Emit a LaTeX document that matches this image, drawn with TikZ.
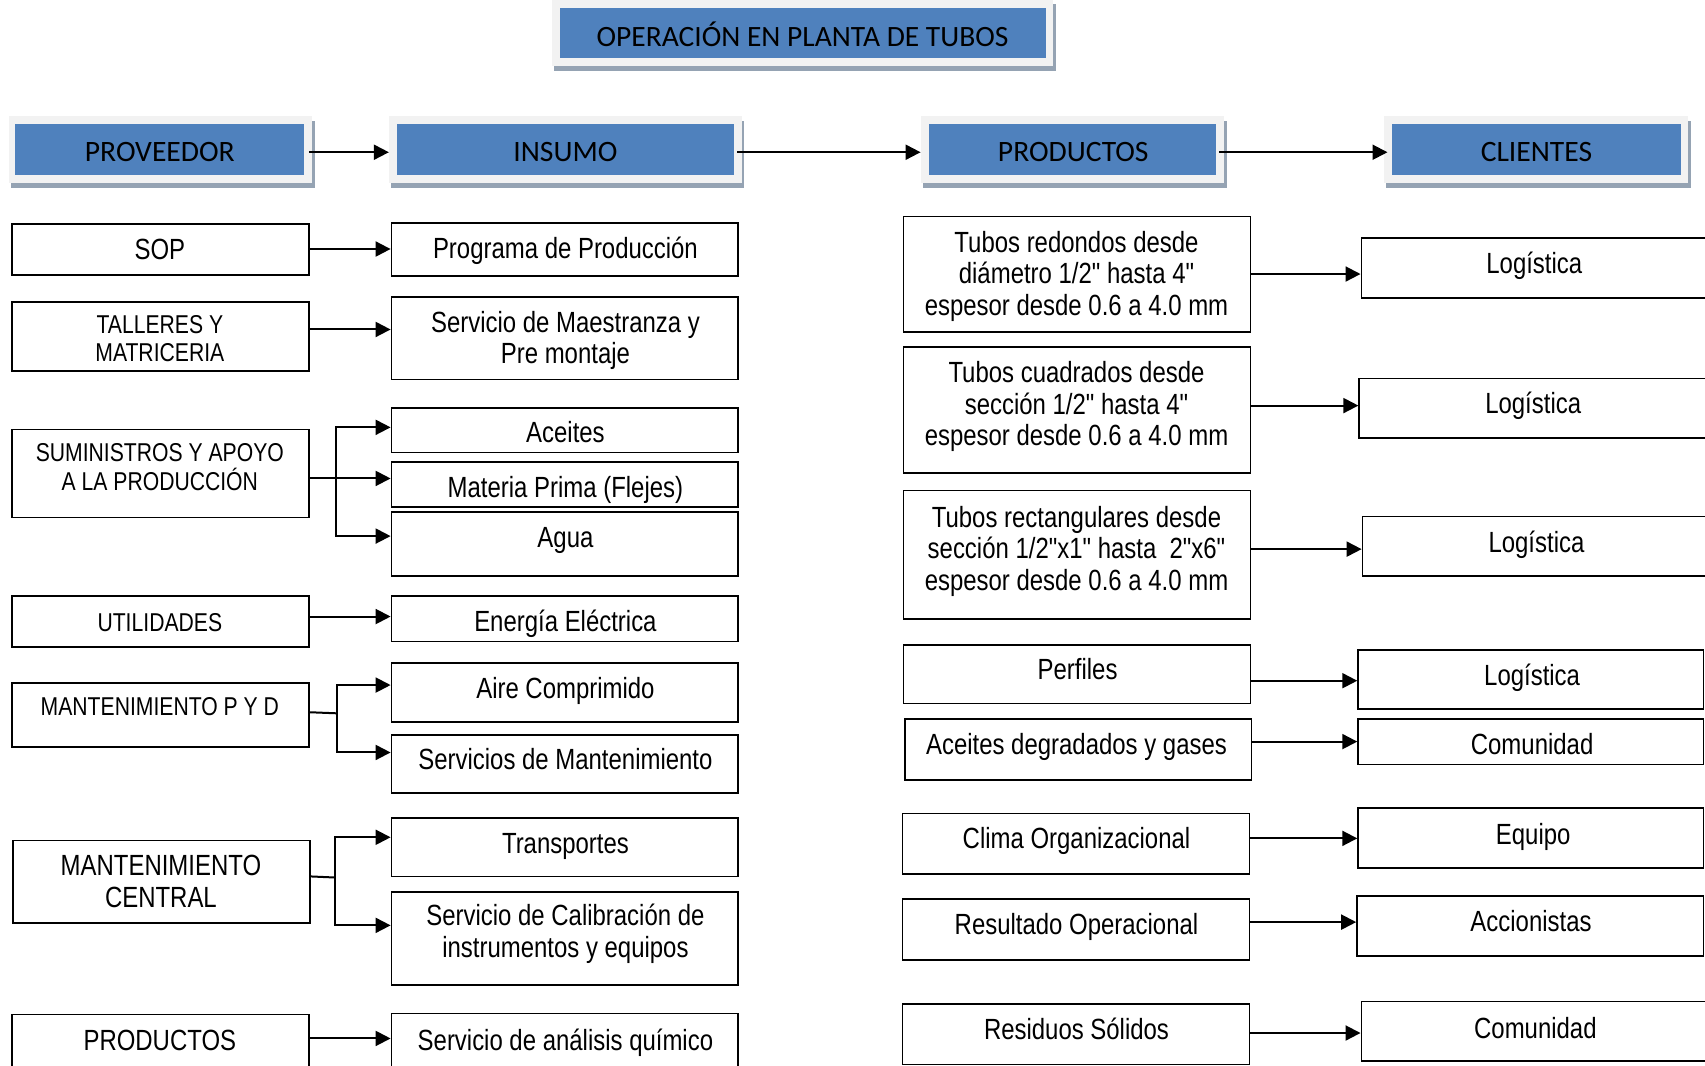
\documentclass[tikz,border=0pt]{standalone}
\usepackage{fontspec}
\newfontfamily\bodyfont{Liberation Sans}[FakeStretch=0.82]
\newfontfamily\hdrfont{Carlito}
\usetikzlibrary{arrows.meta,calc,fit}
\definecolor{hblue}{RGB}{79,129,189}
\definecolor{hframe}{RGB}{242,242,242}
\definecolor{hshadow}{RGB}{149,163,179}
\begin{document}
\begin{tikzpicture}[x=0.5437pt,y=-0.5437pt,
  box/.style={draw=black,line width=0.85pt,inner sep=0pt},
  bigm/.style={font=\bodyfont\fontsize{14.6}{15.8}\selectfont,align=center,inner sep=0pt,yshift=-1.6pt},
  big/.style={font=\bodyfont\fontsize{14.6}{15.8}\selectfont,inner sep=0pt,text height=13.9pt,text depth=3.4pt},
  smallm/.style={font=\bodyfont\fontsize{12.9}{14.1}\selectfont,align=center,inner sep=0pt},
  small/.style={font=\bodyfont\fontsize{12.9}{14.1}\selectfont,inner sep=0pt,text height=12.3pt,text depth=3pt},
  hdr/.style={font=\hdrfont\fontsize{14.8}{16}\selectfont,inner sep=0pt},
  ttl/.style={font=\hdrfont\fontsize{14.75}{17}\selectfont,inner sep=0pt,text height=13.3pt,text depth=3.8pt},
  arr/.style={line width=1pt,-{Triangle[length=7.5pt,width=7.5pt]}},
  ln/.style={line width=1pt},
  hfr/.style={fill=hframe,inner sep=0pt},
  hbl/.style={fill=hblue},
  hsh/.style={fill=hshadow}]
\useasboundingbox (0,0) rectangle (1568,980);
\fill[white] (0,0) rectangle (1568,980);
\clip (0,0) rectangle (1568,980);

% ---------- title ----------
\fill[hsh] (509.5,4) rectangle (971,65.3);
\node[hfr, fit={(507.6,0) (968,60.7)}] (title) {};
\fill[hbl] (515,7.4) rectangle (962,53.4);
\node[ttl] at (738,34) {OPERACIÓN EN PLANTA DE TUBOS};

% ---------- header row ----------
\fill[hsh] (10,111) rectangle (289.5,172.6);
\node[hfr, fit={(8,106.7) (287,168)}] (hprov) {};
\fill[hbl] (14,114) rectangle (280,160.6);
\node[hdr] at (147,140) {PROVEEDOR};

\fill[hsh] (360,111) rectangle (684.5,172.6);
\node[hfr, fit={(358,106.7) (682,168)}] (hins) {};
\fill[hbl] (365,114) rectangle (675,160.6);
\node[hdr] at (520,140) {INSUMO};

\fill[hsh] (849,111) rectangle (1128,172.6);
\node[hfr, fit={(847,106.7) (1125.6,168)}] (hprod) {};
\fill[hbl] (854,114) rectangle (1118,160.6);
\node[hdr] at (987,140) {PRODUCTOS};

\fill[hsh] (1275,111) rectangle (1555,172.6);
\node[hfr, fit={(1273,106.7) (1552,168)}] (hcli) {};
\fill[hbl] (1280,114) rectangle (1546,160.6);
\node[hdr] at (1413,140) {CLIENTES};

\draw[arr] (284,140) -- (hins.west|-0,140);
\draw[arr] (678,140) -- (hprod.west|-0,140);
\draw[arr] (1121,140) -- (1276,140);

% ---------- left column ----------
\node[box, fit={(11,206) (284,253)}] (sop) {};
\node[big] at (147,229) {SOP};
\node[box, fit={(11,278) (284,341)}] (tal) {};
\node[smallm] at (147,311.5) {TALLERES Y\\MATRICERIA};
\node[box, fit={(11,395) (284,476)}] (sum) {};
\node[smallm] at (147,429.5) {SUMINISTROS Y APOYO\\A LA PRODUCCIÓN};
\node[box, fit={(11,548) (284,595)}] (uti) {};
\node[small] at (147,572) {UTILIDADES};
\node[box, fit={(11,628) (284,687)}] (mpd) {};
\node[small] at (147,649) {MANTENIMIENTO P Y D};
\node[box, fit={(12,773) (285,849)}] (mc) {};
\node[smallm, font=\bodyfont\fontsize{14.6}{15.8}\selectfont] at (148,810.5) {MANTENIMIENTO\\CENTRAL};
\node[box, fit={(11,933) (284,995)}] (prl) {};
\node[big] at (147,956) {PRODUCTOS};

% ---------- middle column ----------
\node[box, fit={(360,205) (679,254)}] (prog) {};
\node[big] at (520,228) {Programa de Producción};
\node[box, fit={(360,273) (679,349)}] (maes) {};
\node[bigm] at (520,310) {Servicio de Maestranza y\\Pre montaje};
\node[box, fit={(360,375) (679,416)}] (acei) {};
\node[big] at (520,397) {Aceites};
\node[box, fit={(360,425) (679,466)}] (mat) {};
\node[big] at (520,448) {Materia Prima (Flejes)};
\node[box, fit={(360,471) (679,530)}] (agua) {};
\node[big] at (520,494) {Agua};
\node[box, fit={(360,548) (679,590)}] (ener) {};
\node[big] at (520,571) {Energía Eléctrica};
\node[box, fit={(360,610) (679,664)}] (aire) {};
\node[big] at (520,633) {Aire Comprimido};
\node[box, fit={(360,676) (679,729)}] (serm) {};
\node[big] at (520,698) {Servicios de Mantenimiento};
\node[box, fit={(360,752) (679,806)}] (trans) {};
\node[big] at (520,775) {Transportes};
\node[box, fit={(360,820) (679,906)}] (cal) {};
\node[bigm] at (520,856) {Servicio de Calibración de\\instrumentos y equipos};
\node[box, fit={(360,932) (679,995)}] (anal) {};
\node[big] at (520,956) {Servicio de análisis químico};

% ---------- left -> middle connectors ----------
\draw[arr] (sop.east|-0,229) -- (prog.west|-0,229);
\draw[arr] (tal.east|-0,303) -- (maes.west|-0,303);
\coordinate (sj) at (309,440);
\draw[arr] (sum.east|-0,440) -- (mat.west|-0,440);
\draw[arr] (sj) |- (acei.west|-0,393);
\draw[arr] (sj) |- (agua.west|-0,493);
\draw[arr] (uti.east|-0,567) -- (ener.west|-0,567);
\coordinate (mj) at (310,656);
\draw[ln] (mpd.east|-0,655) -- (mj);
\draw[arr] (mj) |- (aire.west|-0,630);
\draw[arr] (mj) |- (serm.west|-0,692);
\coordinate (cj) at (308,807);
\draw[ln] (mc.east|-0,806) -- (cj);
\draw[arr] (cj) |- (trans.west|-0,770);
\draw[arr] (cj) |- (cal.west|-0,851);
\draw[arr] (prl.east|-0,955) -- (anal.west|-0,955);

% ---------- products column ----------
\node[box, fit={(831,199) (1150,305)}] (tr) {};
\node[bigm] at (990,251) {Tubos redondos desde\\diámetro 1/2" hasta 4"\\espesor desde 0.6 a 4.0 mm};
\node[box, fit={(831,319) (1150,435)}] (tc) {};
\node[bigm] at (990,371) {Tubos cuadrados desde\\sección 1/2" hasta 4"\\espesor desde 0.6 a 4.0 mm};
\node[box, fit={(831,451) (1150,569)}] (trect) {};
\node[bigm] at (990,504) {Tubos rectangulares desde\\sección 1/2"x1" hasta~ 2"x6"\\espesor desde 0.6 a 4.0 mm};
\node[box, fit={(831,593) (1150,647)}] (perf) {};
\node[big] at (991,615) {Perfiles};
\node[box, fit={(832,661) (1151,717)}] (acdeg) {};
\node[big] at (990,684) {Aceites degradados y gases};
\node[box, fit={(830,748) (1149,804)}] (clima) {};
\node[big] at (990,771) {Clima Organizacional};
\node[box, fit={(830,827) (1149,883)}] (res) {};
\node[big] at (990,850) {Resultado Operacional};
\node[box, fit={(830,923) (1149,979)}] (sol) {};
\node[big] at (990,946) {Residuos Sólidos};

% ---------- clients column ----------
\node[box, fit={(1252,219) (1580,274)}] (l1) {};
\node[big] at (1411,242) {Logística};
\node[box, fit={(1250,348) (1580,403)}] (l2) {};
\node[big] at (1410,371) {Logística};
\node[box, fit={(1253,475) (1580,530)}] (l3) {};
\node[big] at (1413,498) {Logística};
\node[box, fit={(1249,598) (1566.5,652)}] (l4) {};
\node[big] at (1409,621) {Logística};
\node[box, fit={(1249,661) (1566.5,703)}] (com1) {};
\node[big] at (1409,684) {Comunidad};
\node[box, fit={(1249,743) (1566.5,798)}] (eq) {};
\node[big] at (1410,767) {Equipo};
\node[box, fit={(1248,824) (1566.5,879)}] (acc) {};
\node[big] at (1408,847) {Accionistas};
\node[box, fit={(1252,921) (1580,976)}] (com2) {};
\node[big] at (1412,945) {Comunidad};

% ---------- products -> clients connectors ----------
\draw[arr] (tr.east|-0,252) -- (l1.west|-0,252);
\draw[arr] (tc.east|-0,373) -- (l2.west|-0,373);
\draw[arr] (trect.east|-0,505) -- (l3.west|-0,505);
\draw[arr] (perf.east|-0,626) -- (l4.west|-0,626);
\draw[arr] (acdeg.east|-0,682) -- (com1.west|-0,682);
\draw[arr] (clima.east|-0,771) -- (eq.west|-0,771);
\draw[arr] (res.east|-0,848) -- (acc.west|-0,848);
\draw[arr] (sol.east|-0,950) -- (com2.west|-0,950);
\end{tikzpicture}
\end{document}
